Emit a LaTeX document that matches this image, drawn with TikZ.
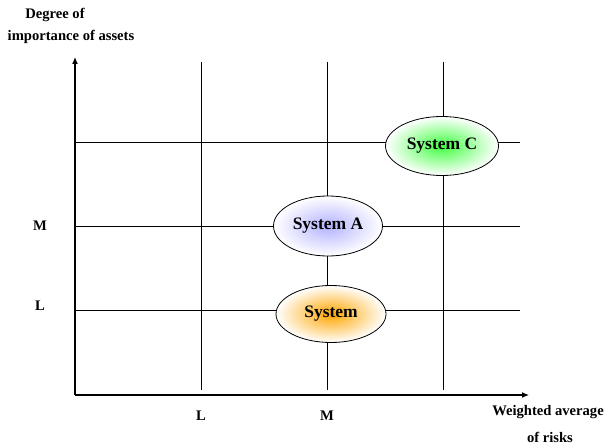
\documentclass[tikz,border=0pt]{standalone}
\usepackage{fontspec}
\setmainfont{Liberation Serif}
\usetikzlibrary{shapes.geometric,arrows.meta}
\begin{document}
\begin{tikzpicture}[x=1pt,y=-1pt,
  lbl/.style={font=\bfseries\fontsize{14.6}{16}\selectfont, inner sep=0pt},
  grid/.style={line width=0.9pt},
  axis/.style={line width=1.2pt,-{Latex[length=7pt,width=6pt]}},
  sys/.style={ellipse, draw, line width=0.8pt, minimum width=#1, font=\bfseries\fontsize{17.5}{19}\selectfont, inner sep=0pt},
]
\path[use as bounding box] (0,0) rectangle (605,444);
% coordinates
\coordinate (o) at (75,395);
\coordinate (ytop) at (75,57);
\coordinate (xend) at (529,395);
\foreach \x/\n in {201/v1,327/v2,443/v3}{
  \coordinate (\n t) at (\x,62);
  \coordinate (\n b) at (\x,390);
}
\foreach \y/\n in {142/h1,226/h2,310/h3}{
  \coordinate (\n l) at (75,\y);
  \coordinate (\n r) at (520,\y);
}
\foreach \n in {v1,v2,v3}{\draw[grid] (\n t) -- (\n b);}
\foreach \n in {h1,h2,h3}{\draw[grid] (\n l) -- (\n r);}
\draw[axis] (o) -- (ytop);
\draw[axis] (o) -- (xend);
% ellipses
\node[sys=113pt, minimum height=59pt, shading=radial, inner color=green!75!white, outer color=white] (C) at (442,146) {System C};
\node[sys=109pt, minimum height=60pt, shading=radial, inner color=blue!30!white, outer color=white] (A) at (328,226) {System A};
\node[sys=110pt, minimum height=57pt, shading=radial, inner color=orange!70!yellow, outer color=white] (S) at (331,314) {System\hspace{16pt}};
% labels
\node[lbl] (dg1) at (55,15) {Degree of};
\node[lbl] (dg2) at (71,37) {importance of assets};
\node[lbl] (yM) at (40,226) {M};
\node[lbl] (yL) at (40,306) {L};
\node[lbl] (xL) at (201,416) {L};
\node[lbl] (xM) at (327,416) {M};
\node[lbl] (w1) at (548,412) {Weighted average};
\node[lbl] (w2) at (550,437) {of risks};
\end{tikzpicture}
\end{document}
